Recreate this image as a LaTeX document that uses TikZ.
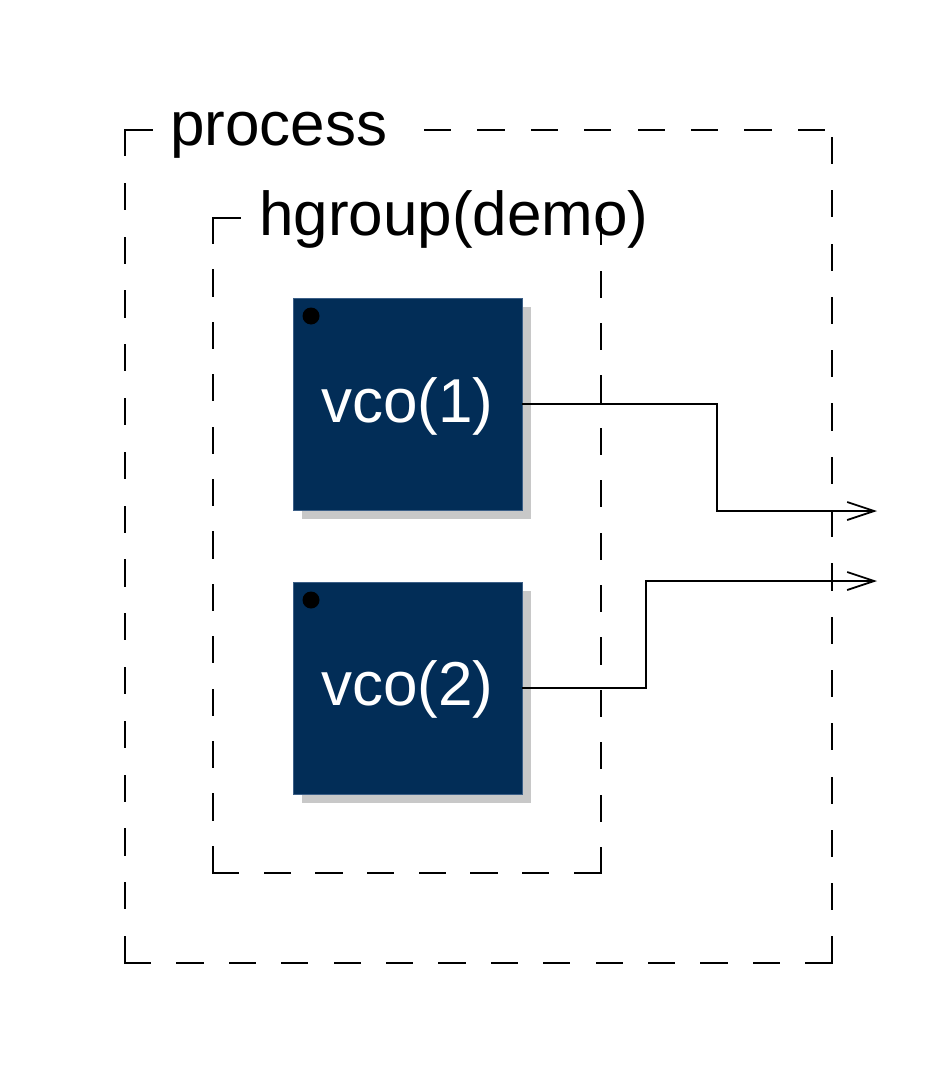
\documentclass[tikz,border=0pt]{standalone}
\usepackage{fontspec}
\setmainfont{Liberation Sans}
\usetikzlibrary{arrows.meta}
\definecolor{blockfill}{RGB}{2,45,87}
\definecolor{blockedge}{RGB}{60,95,135}
\definecolor{shadowgray}{RGB}{200,200,200}
\tikzset{
  groupline/.style={draw=black, line width=2.2pt, line cap=rect},
  sidedash/.style={groupline, dash pattern=on 25pt off #1pt},
  wire/.style={draw=black, line width=1.8pt},
  outarrow/.style={wire, -{Straight Barb[length=27pt,width=18pt,line width=1.8pt]}},
  blockbox/.style={rectangle, fill=blockfill, draw=blockedge, line width=0.8pt,
    minimum width=229pt, minimum height=212pt, inner sep=0pt, outer sep=0pt},
  shadowbox/.style={rectangle, fill=shadowgray, minimum width=229pt, minimum height=212pt, inner sep=0pt},
  grouplabel/.style={anchor=base west, inner sep=0pt, font=\fontsize{62}{70}\selectfont},
  blocklabel/.style={anchor=base, inner sep=0pt, text=white, font=\fontsize{62}{70}\selectfont},
  dotmark/.style={circle, fill=black, minimum size=17pt, inner sep=0pt}
}
\begin{document}
\begin{tikzpicture}[x=1pt,y=-1pt]
\useasboundingbox (0,0) rectangle (950,1086);
% outer group "process"
\coordinate (otl) at (125,130);
\coordinate (otr) at (832,130);
\coordinate (obl) at (125,963);
\coordinate (obr) at (832,963);
\draw[groupline] (otl) -- (152,130);
\draw[sidedash=28.8] (otl) -- (obl);
\draw[sidedash=27.4] (obl) -- (obr);
\draw[sidedash=28.3] (832,138) -- (obr);
\draw[sidedash=28.4] (425,130) -- (825,130);
\node[grouplabel] (proclabel) at (170,146) {process};
% inner group "hgroup(demo)"
\coordinate (itl) at (213,218);
\coordinate (itr) at (601,218);
\coordinate (ibl) at (213,873);
\coordinate (ibr) at (601,873);
\draw[groupline] (itl) -- (240,218);
\draw[sidedash=27.4] (itl) -- (ibl);
\draw[sidedash=26.7] (ibl) -- (ibr);
\draw[sidedash=27.4] (ibr) -- (itr);
\node[grouplabel] (hglabel) at (259,235) {hgroup(demo)};
% shadows
\node[shadowbox] (sh1) at (416.5,413) {};
\node[shadowbox] (sh2) at (416.5,697) {};
% blocks
\node[blockbox] (vco1) at (407.5,404) {};
\node[blockbox] (vco2) at (407.5,688) {};
\node[blocklabel] (t1) at (407.5,422) {vco(1)};
\node[blocklabel] (t2) at (407.5,705) {vco(2)};
\node[dotmark] (d1) at (311,316) {};
\node[dotmark] (d2) at (311,600) {};
% outputs
\coordinate (out1) at (877,511);
\coordinate (out2) at (877,581);
\draw[outarrow] (vco1.east) -- (717,404) -- (717,511) -- (out1);
\draw[outarrow] (vco2.east) -- (646,688) -- (646,581) -- (out2);
\end{tikzpicture}
\end{document}
